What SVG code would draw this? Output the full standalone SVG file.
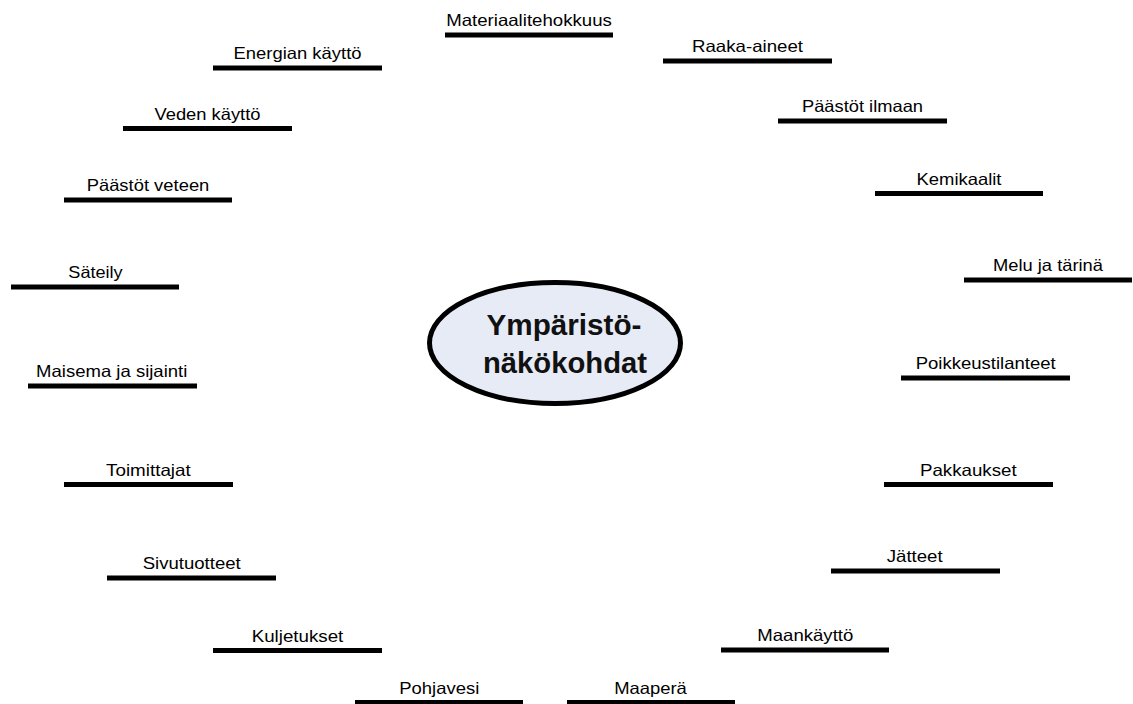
<svg xmlns="http://www.w3.org/2000/svg" width="1133" height="704" viewBox="0 0 1133 704">
<style>
.bar{stroke:#000;stroke-width:5;stroke-linecap:butt}
.lbl{font-family:"Liberation Sans",Arial,sans-serif;font-size:16.5px;fill:#000;text-anchor:middle}
.ctr{font-family:"Liberation Sans",Arial,sans-serif;font-size:30px;font-weight:bold;fill:#111;text-anchor:middle}
</style>
<rect width="1133" height="704" fill="#fff"/>
<g id="center">
<ellipse cx="555" cy="343" rx="125.5" ry="60.5" fill="#e6ebf6" stroke="#000" stroke-width="5"/>
<text class="ctr" x="564" y="335" textLength="155" lengthAdjust="spacingAndGlyphs">Ympäristö-</text>
<text class="ctr" x="565" y="372.5" textLength="164" lengthAdjust="spacingAndGlyphs">näkökohdat</text>
</g>
<g id="materiaalitehokkuus"><line class="bar" x1="445" y1="35" x2="613" y2="35"/><text class="lbl" x="529" y="26" textLength="165.7" lengthAdjust="spacingAndGlyphs">Materiaalitehokkuus</text></g>
<g id="raaka-aineet"><line class="bar" x1="663" y1="61" x2="832" y2="61"/><text class="lbl" x="747.5" y="52" textLength="111" lengthAdjust="spacingAndGlyphs">Raaka-aineet</text></g>
<g id="energian-kaytto"><line class="bar" x1="213" y1="68" x2="382" y2="68"/><text class="lbl" x="297.5" y="59" textLength="128" lengthAdjust="spacingAndGlyphs">Energian käyttö</text></g>
<g id="paastot-ilmaan"><line class="bar" x1="778" y1="121" x2="947" y2="121"/><text class="lbl" x="862.5" y="112" textLength="121" lengthAdjust="spacingAndGlyphs">Päästöt ilmaan</text></g>
<g id="veden-kaytto"><line class="bar" x1="123" y1="128.5" x2="292" y2="128.5"/><text class="lbl" x="207.5" y="119.5" textLength="106" lengthAdjust="spacingAndGlyphs">Veden käyttö</text></g>
<g id="kemikaalit"><line class="bar" x1="875" y1="193.5" x2="1043" y2="193.5"/><text class="lbl" x="959" y="184.5" textLength="85" lengthAdjust="spacingAndGlyphs">Kemikaalit</text></g>
<g id="paastot-veteen"><line class="bar" x1="64" y1="200" x2="232" y2="200"/><text class="lbl" x="148" y="191" textLength="122.7" lengthAdjust="spacingAndGlyphs">Päästöt veteen</text></g>
<g id="melu-ja-tarina"><line class="bar" x1="964" y1="280" x2="1132" y2="280"/><text class="lbl" x="1048" y="271" textLength="110" lengthAdjust="spacingAndGlyphs">Melu ja tärinä</text></g>
<g id="sateily"><line class="bar" x1="11" y1="287" x2="179" y2="287"/><text class="lbl" x="95.5" y="278" textLength="54.3" lengthAdjust="spacingAndGlyphs">Säteily</text></g>
<g id="poikkeustilanteet"><line class="bar" x1="901" y1="378" x2="1070" y2="378"/><text class="lbl" x="985.7" y="369" textLength="140" lengthAdjust="spacingAndGlyphs">Poikkeustilanteet</text></g>
<g id="maisema-ja-sijainti"><line class="bar" x1="28" y1="386" x2="197" y2="386"/><text class="lbl" x="111.7" y="377" textLength="151.3" lengthAdjust="spacingAndGlyphs">Maisema ja sijainti</text></g>
<g id="toimittajat"><line class="bar" x1="64" y1="484.5" x2="233" y2="484.5"/><text class="lbl" x="148.4" y="475.5" textLength="84.7" lengthAdjust="spacingAndGlyphs">Toimittajat</text></g>
<g id="pakkaukset"><line class="bar" x1="884" y1="484.5" x2="1053" y2="484.5"/><text class="lbl" x="968.3" y="475.5" textLength="96.7" lengthAdjust="spacingAndGlyphs">Pakkaukset</text></g>
<g id="jatteet"><line class="bar" x1="831" y1="571" x2="1000" y2="571"/><text class="lbl" x="914.7" y="562" textLength="56" lengthAdjust="spacingAndGlyphs">Jätteet</text></g>
<g id="sivutuotteet"><line class="bar" x1="107" y1="578" x2="276" y2="578"/><text class="lbl" x="191.7" y="569" textLength="98" lengthAdjust="spacingAndGlyphs">Sivutuotteet</text></g>
<g id="kuljetukset"><line class="bar" x1="213" y1="650.5" x2="382" y2="650.5"/><text class="lbl" x="297.5" y="641.5" textLength="91.7" lengthAdjust="spacingAndGlyphs">Kuljetukset</text></g>
<g id="maankaytto"><line class="bar" x1="721" y1="650" x2="889" y2="650"/><text class="lbl" x="805.3" y="641" textLength="96" lengthAdjust="spacingAndGlyphs">Maankäyttö</text></g>
<g id="pohjavesi"><line class="bar" x1="355" y1="702.5" x2="523" y2="702.5"/><text class="lbl" x="439.3" y="693.5" textLength="80" lengthAdjust="spacingAndGlyphs">Pohjavesi</text></g>
<g id="maapera"><line class="bar" x1="567" y1="702.5" x2="735" y2="702.5"/><text class="lbl" x="650.5" y="693.5" textLength="72.7" lengthAdjust="spacingAndGlyphs">Maaperä</text></g>
<g id="connectors"/>
</svg>
